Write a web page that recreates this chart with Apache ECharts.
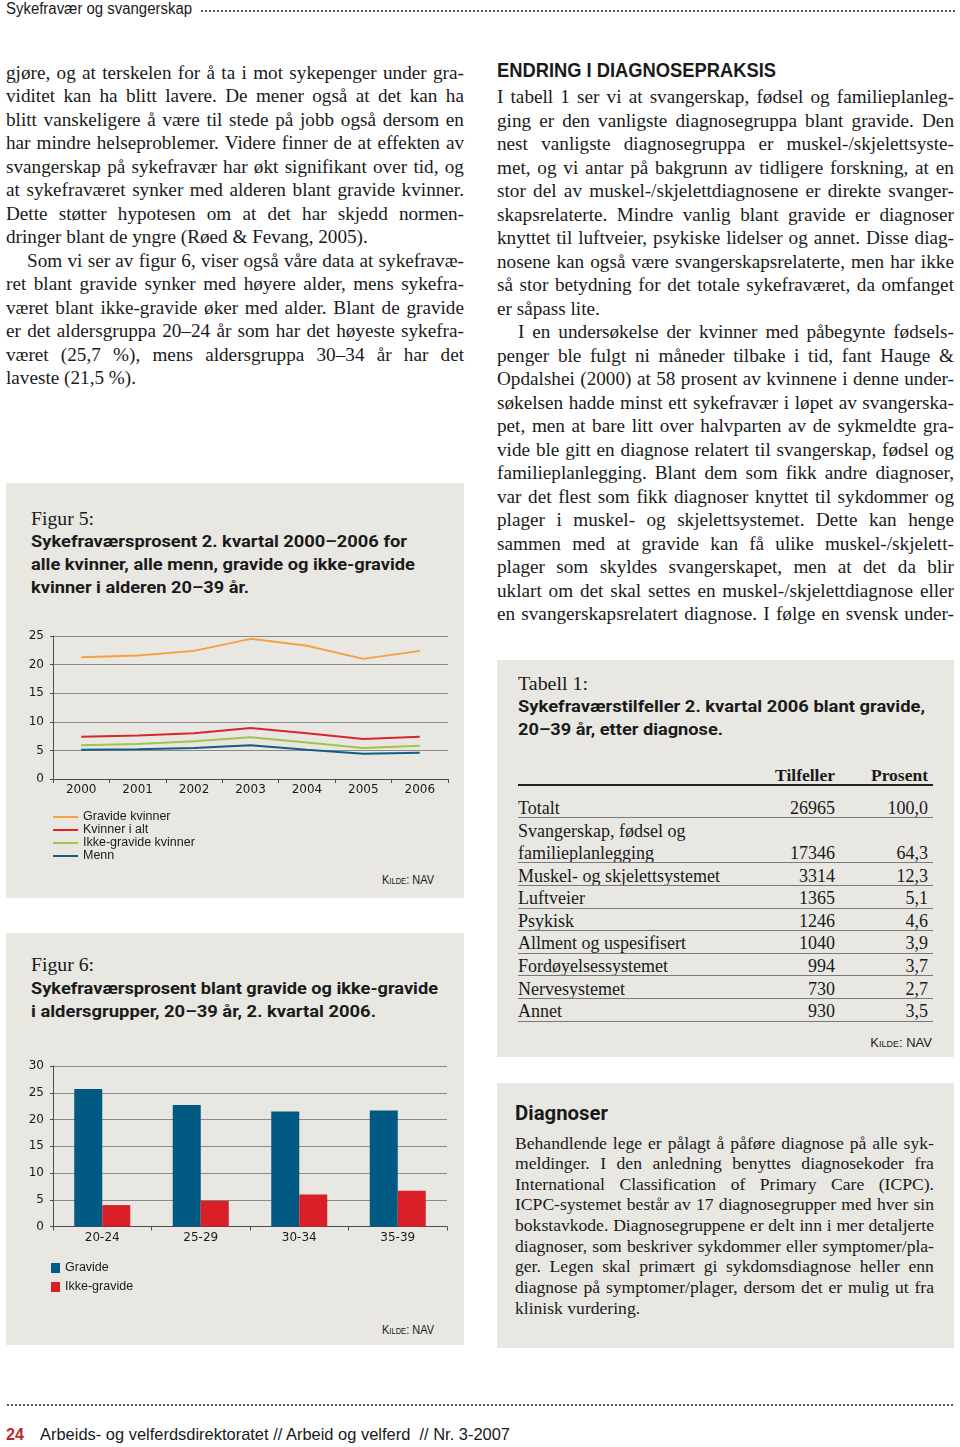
<!DOCTYPE html>
<html><head><meta charset="utf-8">
<script src="https://cdn.jsdelivr.net/npm/echarts@6/dist/echarts.min.js"></script>
<style>
html,body{margin:0;padding:0;background:#fff;}
#page{position:relative;width:960px;height:1447px;overflow:hidden;color:#1a1a1a;}
.box{position:absolute;background:#e8e7e2;}
.line{position:absolute;white-space:nowrap;font-family:"Liberation Serif","Times New Roman",serif;color:#1a1a1a;}
.just{display:flex;justify-content:space-between;}
.fit{position:absolute;white-space:nowrap;transform-origin:0 50%;}
.dots{position:absolute;height:2px;background-image:radial-gradient(circle,#555 0.8px,transparent 1.1px);background-size:4px 2px;background-repeat:repeat-x;}
.chart{position:absolute;}
</style></head><body><div id="page"></div>
<script>
// ---------- DATA ----------
const years = ['2000', '2001', '2002', '2003', '2004', '2005', '2006'];
const gravideKvinner = [21.3, 21.6, 22.4, 24.5, 23.3, 21.0, 22.4];
const kvinnerIAlt = [7.4, 7.6, 8.0, 8.9, 8.0, 7.0, 7.4];
const ikkeGravideKvinner = [5.9, 6.1, 6.6, 7.3, 6.4, 5.4, 5.8];
const menn = [5.1, 5.2, 5.4, 5.9, 5.1, 4.4, 4.6];
const fig5Max = 25, fig5Step = 5;

const ageGroups = ['20-24', '25-29', '30-34', '35-39'];
const gravide = [25.7, 22.7, 21.5, 21.7];
const ikkeGravide = [4.0, 4.8, 6.0, 6.7];
const fig6Max = 30, fig6Step = 5;

const diagnoser = ['Totalt', 'Svangerskap, fødsel og\nfamilieplanlegging', 'Muskel- og skjelettsystemet', 'Luftveier', 'Psykisk', 'Allment og uspesifisert', 'Fordøyelsessystemet', 'Nervesystemet', 'Annet'];
const tilfeller = ['26965', '17346', '3314', '1365', '1246', '1040', '994', '730', '930'];
const prosent = ['100,0', '64,3', '12,3', '5,1', '4,6', '3,9', '3,7', '2,7', '3,5'];

// ---------- TEXT ----------
const leftText = [
  "gjøre, og at terskelen for å ta i mot sykepenger under gra-",
  "viditet kan ha blitt lavere. De mener også at det kan ha",
  "blitt vanskeligere å være til stede på jobb også dersom en",
  "har mindre helseproblemer. Videre finner de at effekten av",
  "svangerskap på sykefravær har økt signifikant over tid, og",
  "at sykefraværet synker med alderen blant gravide kvinner.",
  "Dette støtter hypotesen om at det har skjedd normen-",
  "~dringer blant de yngre (Røed & Fevang, 2005).",
  ">Som vi ser av figur 6, viser også våre data at sykefravæ-",
  "ret blant gravide synker med høyere alder, mens sykefra-",
  "været blant ikke-gravide øker med alder. Blant de gravide",
  "er det aldersgruppa 20–24 år som har det høyeste sykefra-",
  "været (25,7 %), mens aldersgruppa 30–34 år har det",
  "~laveste (21,5 %)."
];
const rightText = [
  "I tabell 1 ser vi at svangerskap, fødsel og familieplanleg-",
  "ging er den vanligste diagnosegruppa blant gravide. Den",
  "nest vanligste diagnosegruppa er muskel-/skjelettsyste-",
  "met, og vi antar på bakgrunn av tidligere forskning, at en",
  "stor del av muskel-/skjelettdiagnosene er direkte svanger-",
  "skapsrelaterte. Mindre vanlig blant gravide er diagnoser",
  "knyttet til luftveier, psykiske lidelser og annet. Disse diag-",
  "nosene kan også være svangerskapsrelaterte, men har ikke",
  "så stor betydning for det totale sykefraværet, da omfanget",
  "~er såpass lite.",
  ">I en undersøkelse der kvinner med påbegynte fødsels-",
  "penger ble fulgt ni måneder tilbake i tid, fant Hauge &",
  "Opdalshei (2000) at 58 prosent av kvinnene i denne under-",
  "søkelsen hadde minst ett sykefravær i løpet av svangerska-",
  "pet, men at bare litt over halvparten av de sykmeldte gra-",
  "vide ble gitt en diagnose relatert til svangerskap, fødsel og",
  "familieplanlegging. Blant dem som fikk andre diagnoser,",
  "var det flest som fikk diagnoser knyttet til sykdommer og",
  "plager i muskel- og skjelettsystemet. Dette kan henge",
  "sammen med at gravide kan få ulike muskel-/skjelett-",
  "plager som skyldes svangerskapet, men at det da blir",
  "uklart om det skal settes en muskel-/skjelettdiagnose eller",
  "en svangerskapsrelatert diagnose. I følge en svensk under-"
];
const boxText = [
  "Behandlende lege er pålagt å påføre diagnose på alle syk-",
  "meldinger. I den anledning benyttes diagnosekoder fra",
  "International Classification of Primary Care (ICPC).",
  "ICPC-systemet består av 17 diagnosegrupper med hver sin",
  "bokstavkode. Diagnosegruppene er delt inn i mer detaljerte",
  "diagnoser, som beskriver sykdommer eller symptomer/pla-",
  "ger. Legen skal primært gi sykdomsdiagnose heller enn",
  "diagnose på symptomer/plager, dersom det er mulig ut fra",
  "~klinisk vurdering."
];

const page = document.getElementById('page');
function el(tag, cls, css, text) {
  const d = document.createElement(tag);
  if (cls) d.className = cls;
  if (css) d.style.cssText = css;
  if (text != null) d.textContent = text;
  page.appendChild(d);
  return d;
}
function box(x1, y1, x2, y2) { el('div', 'box', `left:${x1}px;top:${y1}px;width:${x2 - x1}px;height:${y2 - y1}px;`); }
function dots(x1, x2, y) { el('div', 'dots', `left:${x1}px;top:${y - 1}px;width:${x2 - x1}px;`); }
function fit(text, x, cy, w, css, lh) {
  const d = el('div', 'fit', css + `;left:${x}px;top:${cy - lh / 2}px;line-height:${lh}px;`, text);
  const nat = d.getBoundingClientRect().width;
  d.style.transform = `scaleX(${w / nat})`;
  return d;
}
function fitRight(text, xr, cy, css, lh) {
  const d = el('div', 'fit', css + `;top:${cy - lh / 2}px;line-height:${lh}px;left:0px;`, text);
  const nat = d.getBoundingClientRect().width;
  d.style.left = (xr - nat) + 'px';
  return d;
}
function bodyLines(lines, x, w, y0, pitch, fs, lh, indent) {
  lines.forEach((raw, i) => {
    let t = raw, just = true, ind = 0;
    if (t.startsWith('>')) { t = t.slice(1); ind = indent; }
    if (t.startsWith('~')) { t = t.slice(1); just = false; }
    const d = el('div', 'line' + (just ? ' just' : ''),
      `left:${x + ind}px;top:${y0 + i * pitch - lh / 2}px;width:${w - ind}px;font-size:${fs}px;line-height:${lh}px;height:${lh}px;`);
    if (just) t.split(' ').forEach(wd => { const s = document.createElement('span'); s.textContent = wd; d.appendChild(s); });
    else d.textContent = t;
  });
}

const SANS = 'font-family:"Liberation Sans",Arial,sans-serif;color:#1a1a1a';
const BOLD = 'font-family:Roboto,"Liberation Sans",sans-serif;font-weight:700;color:#1a1a1a;font-size:17px';
const SERIF = 'font-family:"Liberation Serif","Times New Roman",serif;color:#1a1a1a';

// header / footer
fit('Sykefravær og svangerskap', 6, 9, 186, SANS + ';font-size:16px', 18);
dots(200, 955, 11);
dots(6, 955, 1405);
fit('24', 6, 1435, 18, 'font-family:"Liberation Sans",sans-serif;font-weight:700;color:#c0272d;font-size:17px', 20);
fit('Arbeids- og velferdsdirektoratet // Arbeid og velferd  // Nr. 3-2007', 40, 1435, 470, SANS + ';font-size:17px;white-space:pre', 20);

// body text
bodyLines(leftText, 6, 458, 73, 23.46, 19.2, 24, 21);
fit('ENDRING I DIAGNOSEPRAKSIS', 497, 70, 279, 'font-family:"Liberation Sans",sans-serif;font-weight:700;color:#1a1a1a;font-size:21px', 24);
bodyLines(rightText, 497, 457, 97, 23.5, 19.2, 24, 21);

// boxes
box(6, 483, 464, 898);
box(6, 933, 464, 1345);
box(497, 660, 954, 1057);
box(497, 1083, 954, 1348);

// figure 5 titles
fit('Figur 5:', 31, 519, 63, SERIF + ';font-size:19.5px', 22);
fit('Sykefraværsprosent 2. kvartal 2000–2006 for', 31, 541, 376, BOLD, 22);
fit('alle kvinner, alle menn, gravide og ikke-gravide', 31, 564, 384, BOLD, 22);
fit('kvinner i alderen 20–39 år.', 31, 587, 218, BOLD, 22);
const KILDE = 'font-family:"Liberation Sans",sans-serif;font-variant:small-caps;color:#1a1a1a;font-size:13px';
fit('Kilde: NAV', 382, 880, 52, KILDE, 16);

// figure 6 titles
fit('Figur 6:', 31, 965, 63, SERIF + ';font-size:19.5px', 22);
fit('Sykefraværsprosent blant gravide og ikke-gravide', 31, 988, 407, BOLD, 22);
fit('i aldersgrupper, 20–39 år, 2. kvartal 2006.', 31, 1011, 345, BOLD, 22);
fit('Kilde: NAV', 382, 1330, 52, KILDE, 16);

// table
fit('Tabell 1:', 518, 684, 70, SERIF + ';font-size:19.5px', 22);
fit('Sykefraværstilfeller 2. kvartal 2006 blant gravide,', 518, 706, 407, BOLD, 22);
fit('20–39 år, etter diagnose.', 518, 729, 205, BOLD, 22);
const TH = SERIF + ';font-weight:700;font-size:17.5px';
fitRight('Tilfeller', 835, 775, TH, 20);
fitRight('Prosent', 928, 775, TH, 20);
el('div', null, 'position:absolute;left:518px;top:784px;width:415px;height:1.5px;background:#222;');
const TD = SERIF + ';font-size:18px';
let sep = 817.3 - 22.6;
diagnoser.forEach((name, i) => {
  const parts = name.split('\n');
  const top = sep;
  sep += parts.length * 22.6 - (i === 1 ? 0.2 : 0);
  parts.forEach((p, k) => {
    const cy = top + 22.6 * (k + 1) - 9.3;
    el('div', 'fit', TD + `;left:518px;top:${cy - 10}px;line-height:20px;`, p);
  });
  const cyLast = sep - 9.3;
  fitRight(tilfeller[i], 835, cyLast, TD, 20);
  fitRight(prosent[i], 928, cyLast, TD, 20);
  el('div', null, `position:absolute;left:518px;top:${sep}px;width:415px;height:1px;background:#7a7a7a;`);
});
fitRight('Kilde: NAV', 932, 1043, KILDE, 16);

// Diagnoser box
fit('Diagnoser', 515, 1113, 93, 'font-family:Roboto,"Liberation Sans",sans-serif;font-weight:700;color:#1a1a1a;font-size:20px', 24);
bodyLines(boxText, 515, 419, 1143, 20.625, 17.6, 21, 0);

// ---------- CHARTS ----------
const AX = '#4d4d4d', GRID = '#8a8a8a', LBL = { fontFamily: 'DejaVu Sans', fontSize: 12, color: '#1a1a1a' };
function mkDiv(x, y, w, h) { return el('div', 'chart', `left:${x}px;top:${y}px;width:${w}px;height:${h}px;`); }

const c5 = echarts.init(mkDiv(6, 620, 458, 270), null, { renderer: 'canvas' });
c5.setOption({
  animation: false,
  grid: { left: 47, top: 16, width: 395, height: 143, containLabel: false },
  legend: {
    orient: 'vertical', left: 47, top: 190.5, padding: 0, itemWidth: 25, itemHeight: 2, itemGap: 0, icon: 'rect',
    textStyle: { fontFamily: 'Liberation Sans', fontSize: 12.5, lineHeight: 13, color: '#1a1a1a' },
    data: ['Gravide kvinner', 'Kvinner i alt', 'Ikke-gravide kvinner', 'Menn']
  },
  xAxis: {
    type: 'category', data: years, boundaryGap: true,
    axisLine: { lineStyle: { color: AX, width: 1 } },
    axisTick: { show: true, length: 4, lineStyle: { color: AX } },
    axisLabel: Object.assign({ margin: 5 }, LBL)
  },
  yAxis: {
    type: 'value', min: 0, max: fig5Max, interval: fig5Step,
    axisLine: { show: true, lineStyle: { color: AX, width: 1 } },
    axisTick: { show: true, length: 3, lineStyle: { color: AX } },
    splitLine: { show: true, lineStyle: { color: GRID, width: 1 } },
    axisLabel: Object.assign({ margin: 9 }, LBL)
  },
  series: [
    { name: 'Gravide kvinner', type: 'line', data: gravideKvinner, symbol: 'none', lineStyle: { width: 2, color: '#f4a23f' }, itemStyle: { color: '#f4a23f' } },
    { name: 'Kvinner i alt', type: 'line', data: kvinnerIAlt, symbol: 'none', lineStyle: { width: 2, color: '#d9262c' }, itemStyle: { color: '#d9262c' } },
    { name: 'Ikke-gravide kvinner', type: 'line', data: ikkeGravideKvinner, symbol: 'none', lineStyle: { width: 2, color: '#9fc44f' }, itemStyle: { color: '#9fc44f' } },
    { name: 'Menn', type: 'line', data: menn, symbol: 'none', lineStyle: { width: 2, color: '#175c83' }, itemStyle: { color: '#175c83' } }
  ]
});

const c6 = echarts.init(mkDiv(6, 1050, 458, 270), null, { renderer: 'canvas' });
c6.setOption({
  animation: false,
  grid: { left: 47, top: 16, width: 394, height: 160.5, containLabel: false },
  legend: {
    orient: 'vertical', left: 45, top: 211, padding: 0, itemWidth: 9, itemHeight: 10, itemGap: 5, icon: 'rect',
    textStyle: { fontFamily: 'Liberation Sans', fontSize: 12.5, lineHeight: 14, color: '#1a1a1a' },
    data: ['Gravide', 'Ikke-gravide']
  },
  xAxis: {
    type: 'category', data: ageGroups, boundaryGap: true,
    axisLine: { lineStyle: { color: AX, width: 1 } },
    axisTick: { show: true, length: 4, lineStyle: { color: AX } },
    axisLabel: Object.assign({ margin: 5 }, LBL)
  },
  yAxis: {
    type: 'value', min: 0, max: fig6Max, interval: fig6Step,
    axisLine: { show: true, lineStyle: { color: AX, width: 1 } },
    axisTick: { show: true, length: 3, lineStyle: { color: AX } },
    splitLine: { show: true, lineStyle: { color: GRID, width: 1 } },
    axisLabel: Object.assign({ margin: 9 }, LBL)
  },
  series: [
    { name: 'Gravide', type: 'bar', data: gravide, barWidth: 28, barGap: '0%', itemStyle: { color: '#005a83' } },
    { name: 'Ikke-gravide', type: 'bar', data: ikkeGravide, barWidth: 28, barGap: '0%', itemStyle: { color: '#d91f26' } }
  ]
});
</script>
</body></html>
